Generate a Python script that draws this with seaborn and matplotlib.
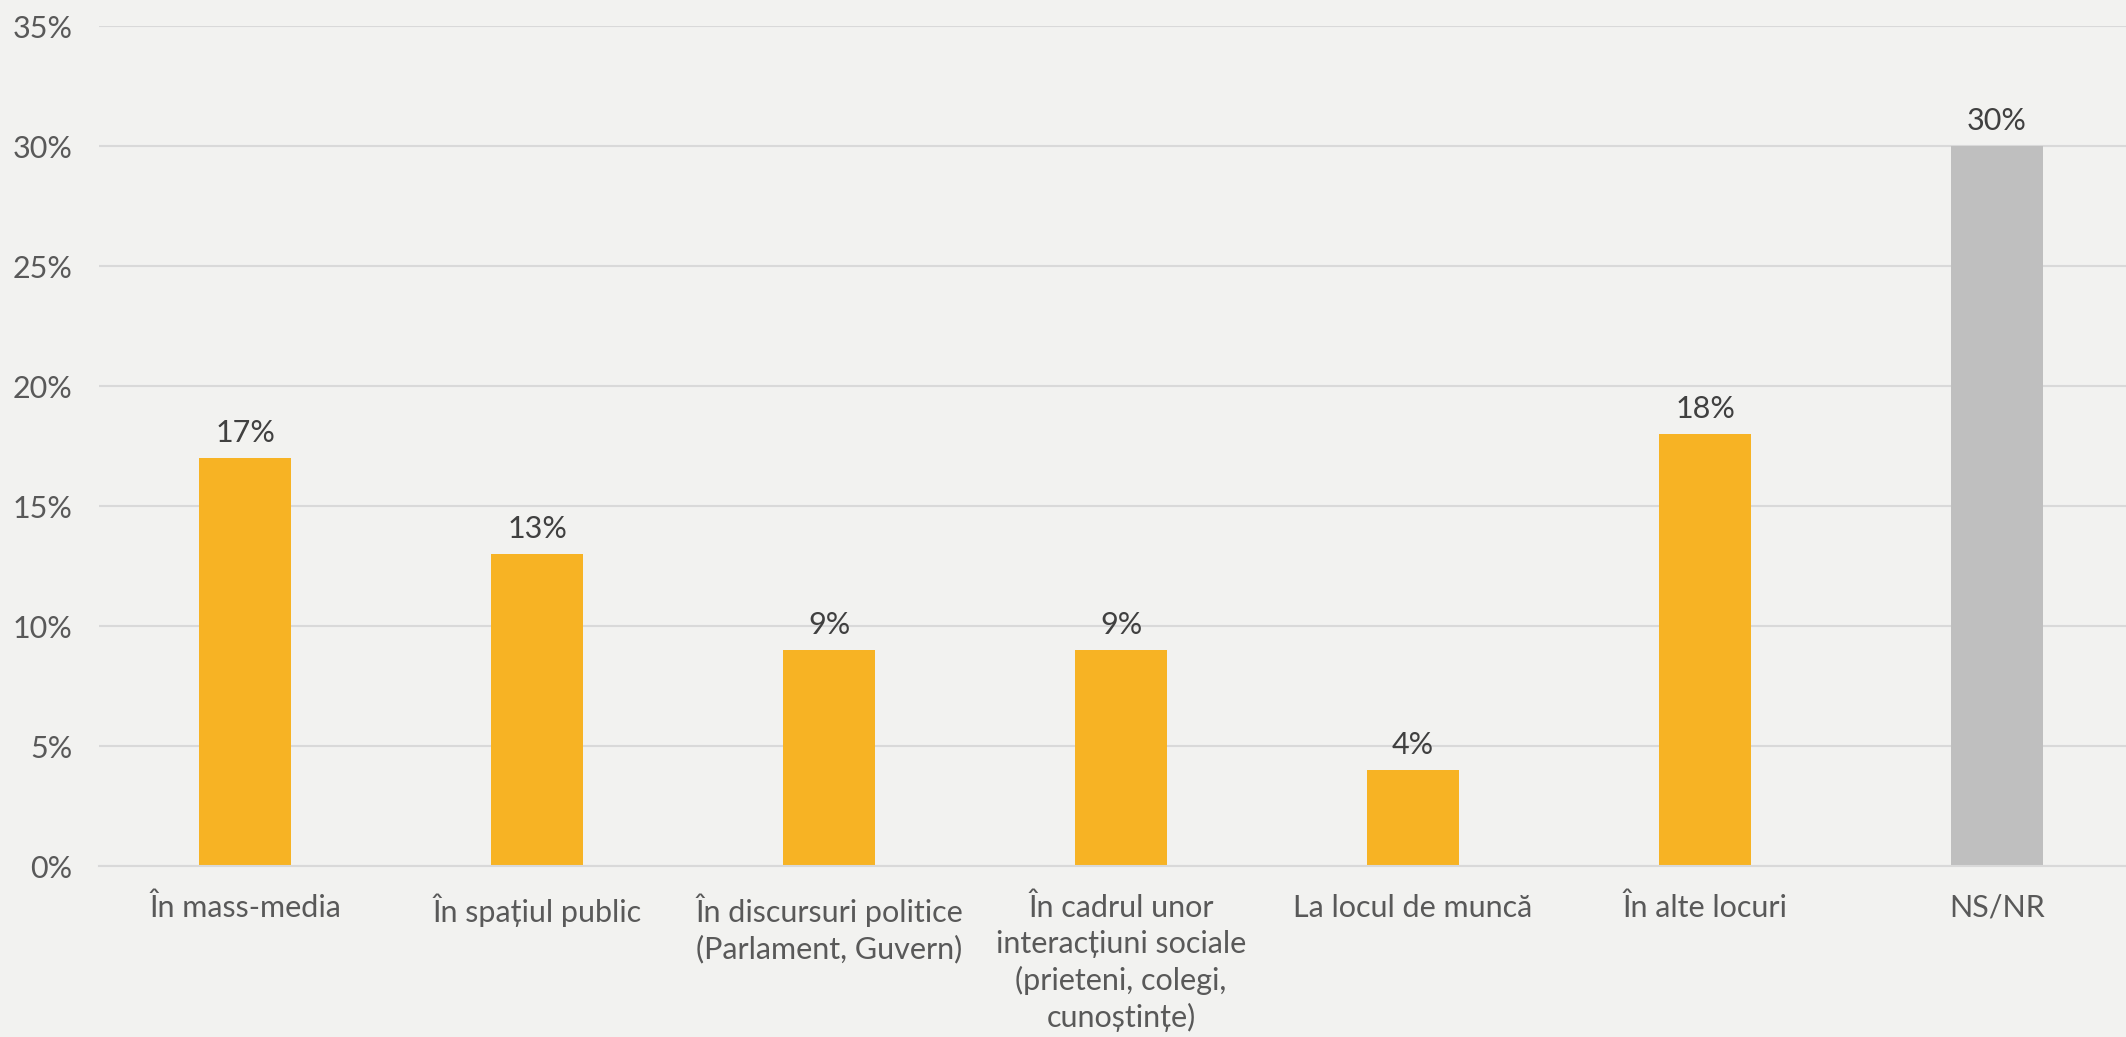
import numpy as np
import pandas as pd
import seaborn as sns
import matplotlib.pyplot as plt

# categories and shares (%)
categories = ["În mass-media", "În spațiul public", "În discursuri politice\n(Parlament, Guvern)",
              "În cadrul unor\ninteracțiuni sociale\n(prieteni, colegi,\ncunoștințe)",
              "La locul de muncă", "În alte locuri", "NS/NR"]
values = [17, 13, 9, 9, 4, 18, 30]
groups = ["loc", "loc", "loc", "loc", "loc", "loc", "nsnr"]
yticks = [0, 5, 10, 15, 20, 25, 30, 35]

bg = "#F2F2F0"
sns.set_theme(style="white")
plt.rcParams['font.family'] = ['Lato', 'DejaVu Sans']

df = pd.DataFrame({"cat": categories, "val": values, "grp": groups})

fig = plt.figure(figsize=(21.26, 10.37), dpi=100)
fig.patch.set_facecolor(bg)
ax = fig.add_axes([99 / 2126, 171 / 1037, 2044 / 2126, 840 / 1037])
ax.set_facecolor(bg)

sns.barplot(data=df, x="cat", y="val", hue="grp", palette={"loc": "#F7B324", "nsnr": "#BFBFBF"},
            width=0.315, dodge=False, legend=False, ax=ax, saturation=1, linewidth=0)

ax.set_ylim(0, 35)
ax.set_xlim(-0.5, len(categories) - 0.5)
ax.set_yticks(yticks)
ax.set_yticklabels([f"{t}%" for t in yticks])
ax.yaxis.grid(True, color="#D9D9D9", linewidth=1.5)
ax.set_axisbelow(True)
for s in ["top", "right", "left"]:
    ax.spines[s].set_visible(False)
ax.spines["bottom"].set_color("#D9D9D9")
ax.spines["bottom"].set_linewidth(1.5)
ax.tick_params(axis="y", length=0, pad=19, labelsize=22, labelcolor="#595959")
ax.tick_params(axis="x", length=0, pad=20, labelsize=22, labelcolor="#595959")
for lab in ax.get_xticklabels():
    lab.set_linespacing(1.33)
ax.set_xlabel("")
ax.set_ylabel("")

for c in ax.containers:
    ax.bar_label(c, labels=[f"{v:.0f}%" if v > 0 else "" for v in c.datavalues],
                 padding=8, fontsize=22, color="#404040")

fig.savefig("out.png", dpi=100, facecolor=bg)
